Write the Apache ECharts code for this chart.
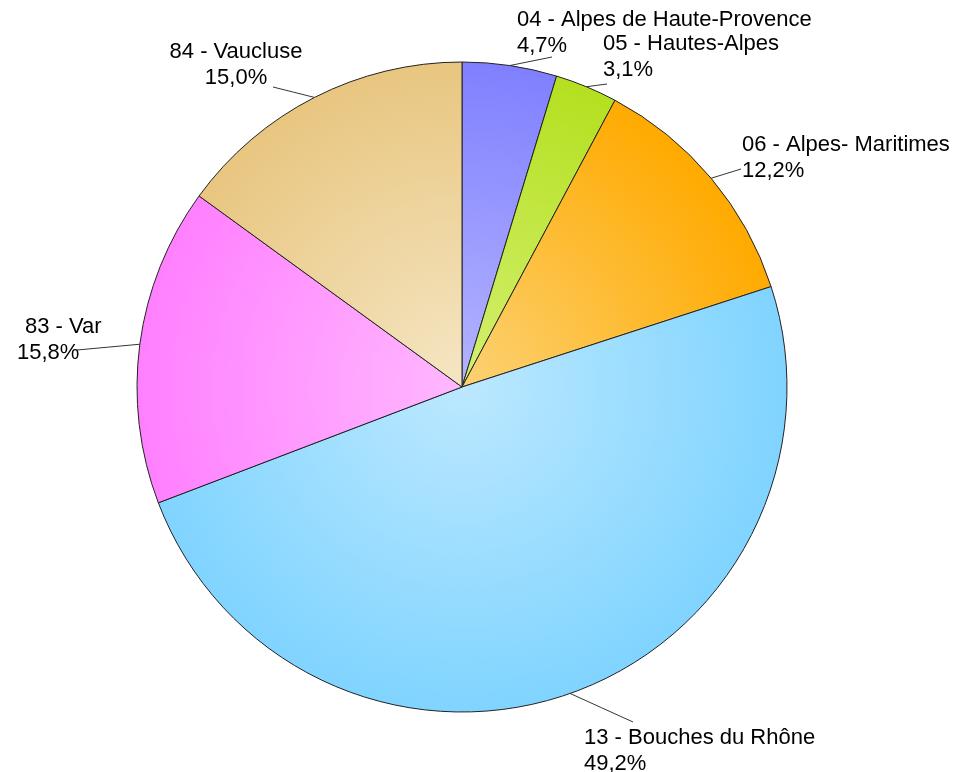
<!DOCTYPE html>
<html>
<head>
<meta charset="utf-8">
<script src="https://cdn.jsdelivr.net/npm/echarts@6/dist/echarts.min.js"></script>
<style>
  html, body { margin: 0; padding: 0; background: #fff; }
  #chart { width: 960px; height: 772px; }
</style>
</head>
<body>
<div id="chart"></div>
<script>
const departements = [
  "04 - Alpes de Haute-Provence",
  "05 - Hautes-Alpes",
  "06 - Alpes- Maritimes",
  "13 - Bouches du Rhône",
  "83 - Var",
  "84 - Vaucluse"
];
const parts = [4.7, 3.1, 12.2, 49.2, 15.8, 15.0];
const edgeColors = ["#8080ff", "#b4e020", "#ffaa00", "#80d4ff", "#ff80ff", "#e8c680"];
const centerColors = ["#b4b4ff", "#d4f070", "#fcd274", "#bce8ff", "#ffb8ff", "#f5e6c4"];

const cx = 462, cy = 387, radius = 325;

// label placement: [x, y, align, line end x, line end y]
const labelPlaces = [
  [517, 33, "left", 552, 57],
  [603, 57, "left", 607, 84],
  [742, 158, "left", 741, 169],
  [584, 751, "left", 633, 722],
  [17, 340, "left", 77, 350],
  [236, 65, "center", 273, 87]
];

const chart = echarts.init(document.getElementById("chart"));

const data = departements.map(function (name, i) {
  return {
    name: name,
    value: parts[i],
    itemStyle: {
      color: {
        type: "radial", x: cx, y: cy, r: radius, global: true,
        colorStops: [
          { offset: 0, color: centerColors[i] },
          { offset: 1, color: edgeColors[i] }
        ]
      }
    },
    label: i === 4 ? { rich: { n: { padding: [0, 0, 0, 8] } } } : undefined
  };
});

const font = "Liberation Sans, Arial, sans-serif";

chart.setOption({
  animation: false,
  series: [{
    type: "pie",
    center: [cx, cy],
    radius: radius,
    startAngle: 90,
    clockwise: true,
    data: data,
    itemStyle: { borderColor: "#222", borderWidth: 1 },
    label: {
      show: true,
      position: "outside",
      fontFamily: font,
      fontSize: 22,
      color: "#000",
      lineHeight: 26,
      formatter: function (p) {
        return "{n|" + p.name + "}\n{p|" + p.value.toFixed(1).replace(".", ",") + "%}";
      },
      rich: {
        n: { fontSize: 22, lineHeight: 26, color: "#000", fontFamily: font },
        p: { fontSize: 22, lineHeight: 26, color: "#000", fontFamily: font }
      }
    },
    labelLine: {
      show: true,
      length: 10,
      length2: 10,
      smooth: false,
      lineStyle: { color: "#333", width: 1 }
    },
    labelLayout: function (params) {
      const pl = labelPlaces[params.dataIndex];
      const pts = params.labelLinePoints;
      const start = pts ? pts[0] : [pl[3], pl[4]];
      const end = [pl[3], pl[4]];
      return {
        x: pl[0],
        y: pl[1],
        align: pl[2],
        verticalAlign: "middle",
        labelLinePoints: [start, [(start[0] + end[0]) / 2, (start[1] + end[1]) / 2], end]
      };
    }
  }]
});

window.addEventListener("resize", function () { chart.resize(); });
</script>
</body>
</html>
